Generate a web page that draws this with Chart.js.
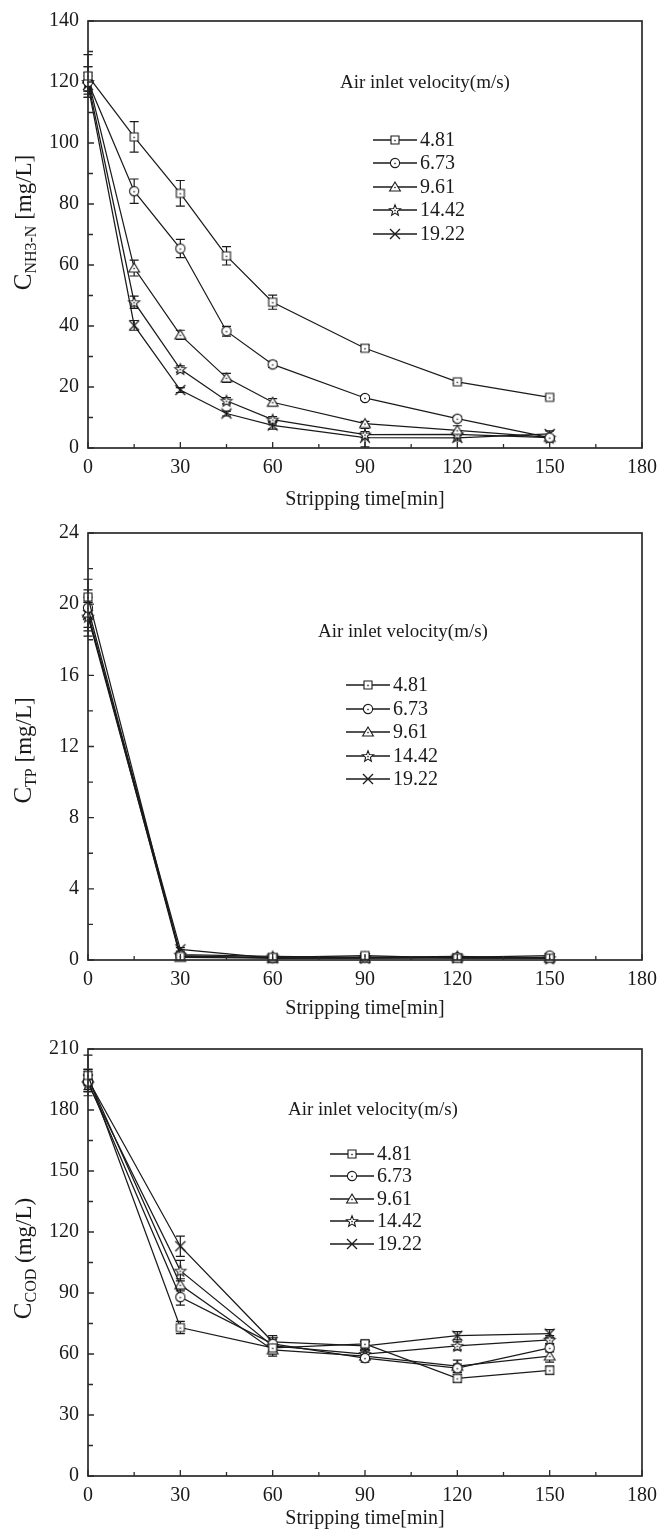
<!DOCTYPE html>
<html><head><meta charset="utf-8">
<script src="https://cdn.jsdelivr.net/npm/chart.js@4/dist/chart.umd.min.js"></script>
<style>
html,body{margin:0;padding:0;background:#fff;}
.panel{position:relative;width:665px;}
</style></head><body>
<div class="panel" style="height:512px"><canvas id="c1"></canvas></div>
<div class="panel" style="height:513px"><canvas id="c2"></canvas></div>
<div class="panel" style="height:513px"><canvas id="c3"></canvas></div>
<script>
// ---------------- data ----------------
const velocities = ['4.81', '6.73', '9.61', '14.42', '19.22'];
const legendTitle = 'Air inlet velocity(m/s)';
const xTitle = 'Stripping time[min]';
const xTickValues = [0, 30, 60, 90, 120, 150, 180];

const timeNH3 = [0, 15, 30, 45, 60, 90, 120, 150];
const nh3Values = [
  [122, 102, 83.5, 63, 47.8, 32.7, 21.7, 16.6],
  [120, 84.2, 65.4, 38.3, 27.4, 16.4, 9.6, 3.4],
  [121, 59, 37.1, 23, 15, 8, 5.8, 3.5],
  [120, 47.8, 25.9, 15.5, 9.3, 4.4, 4.5, 3.4],
  [119, 40.2, 19, 11.3, 7.4, 3.4, 3.3, 4.6]
];
const nh3Errors = [
  [7, 5, 4.2, 3, 2.3, 1, 0.6, 0.6],
  [5, 4, 3, 1.6, 1, 0.7, 0.8, 0.5],
  [4, 2.6, 1.5, 1.5, 1.2, 0.7, 1.5, 0.5],
  [3, 2, 1, 1, 1, 1, 1, 0.5],
  [3, 1.6, 0.8, 0.8, 1.2, 3, 1, 1]
];
const nh3Ticks = [0, 20, 40, 60, 80, 100, 120, 140];

const timeTP = [0, 30, 60, 90, 120, 150];
const tpValues = [
  [20.4, 0.2, 0.15, 0.25, 0.1, 0.1],
  [19.8, 0.25, 0.1, 0.15, 0.15, 0.25],
  [19.5, 0.15, 0.1, 0.1, 0.15, 0.15],
  [19.3, 0.3, 0.2, 0.15, 0.2, 0.1],
  [19.4, 0.6, 0.1, 0.1, 0.1, 0.1]
];
const tpErrors = [
  [1.0, 0.1, 0.1, 0.1, 0.1, 0.1],
  [0.6, 0.1, 0.1, 0.1, 0.1, 0.1],
  [1.3, 0.1, 0.1, 0.1, 0.1, 0.1],
  [0.8, 0.1, 0.1, 0.1, 0.1, 0.1],
  [0.7, 0.1, 0.1, 0.1, 0.1, 0.1]
];
const tpTicks = [0, 4, 8, 12, 16, 20, 24];

const timeCOD = [0, 30, 60, 90, 120, 150];
const codValues = [
  [197, 73, 63, 65, 48, 52],
  [194, 88, 65, 58, 53, 63],
  [196, 94, 62, 59, 54, 59],
  [193, 101, 64, 60, 64, 67],
  [195, 113, 66, 64, 69, 70]
];
const codErrors = [
  [10, 3, 3, 2, 2, 2],
  [5, 4, 3, 2, 2, 2],
  [4, 3, 3, 2, 3, 3],
  [4, 5, 3, 2, 2, 2],
  [5, 5, 3, 2, 2, 2]
];
const codTicks = [0, 30, 60, 90, 120, 150, 180, 210];

// ---------------- styling ----------------
const FONT = "'Liberation Serif', 'Times New Roman', serif";
const INK = '#1a1a1a';

function makeMarker(kind) {
  const s = 16, m = s / 2;
  const c = document.createElement('canvas');
  c.width = s; c.height = s;
  const g = c.getContext('2d');
  g.strokeStyle = INK; g.fillStyle = '#fff'; g.lineWidth = 1.1;
  g.beginPath();
  if (kind === 'square') {
    g.rect(m - 4, m - 4, 8, 8);
  } else if (kind === 'circle') {
    g.arc(m, m, 4.6, 0, Math.PI * 2);
  } else if (kind === 'triangle') {
    g.moveTo(m, m - 5); g.lineTo(m + 5.4, m + 4); g.lineTo(m - 5.4, m + 4); g.closePath();
  } else if (kind === 'star') {
    for (let k = 0; k < 10; k++) {
      const r = k % 2 ? 2.5 : 5.8;
      const a = -Math.PI / 2 + k * Math.PI / 5;
      const px = m + r * Math.cos(a), py = m + 0.6 + r * Math.sin(a);
      if (k) g.lineTo(px, py); else g.moveTo(px, py);
    }
    g.closePath();
  }
  if (kind === 'cross') {
    g.lineWidth = 1.3;
    g.moveTo(m - 5, m - 5); g.lineTo(m + 5, m + 5);
    g.moveTo(m + 5, m - 5); g.lineTo(m - 5, m + 5);
    g.stroke();
  } else {
    g.fill(); g.stroke();
    g.fillStyle = INK;
    g.fillRect(m - 0.7, m - 0.2, 1.4, 1.4);
  }
  return c;
}
const markers = ['square', 'circle', 'triangle', 'star', 'cross'].map(makeMarker);

const decor = {
  id: 'decor',
  beforeDatasetsDraw(chart) {
    const { ctx, scales: { x, y } } = chart;
    ctx.save();
    ctx.strokeStyle = INK; ctx.lineWidth = 1.2;
    chart.data.datasets.forEach(ds => {
      ds.data.forEach((p, i) => {
        const e = ds.errors[i];
        if (!e) return;
        const px = x.getPixelForValue(p.x);
        const y1 = y.getPixelForValue(p.y + e);
        const y2 = Math.min(y.getPixelForValue(p.y - e), chart.chartArea.bottom);
        ctx.beginPath();
        ctx.moveTo(px, y1); ctx.lineTo(px, y2);
        ctx.moveTo(px - 4.5, y1); ctx.lineTo(px + 4.5, y1);
        ctx.moveTo(px - 4.5, y2); ctx.lineTo(px + 4.5, y2);
        ctx.stroke();
      });
    });
    ctx.restore();
  },
  afterDraw(chart, args, o) {
    const { ctx, chartArea: a, scales: { x, y } } = chart;
    ctx.save();
    // frame
    ctx.strokeStyle = '#2a2a2a'; ctx.lineWidth = 1.7;
    ctx.strokeRect(a.left, a.top, a.right - a.left, a.bottom - a.top);
    // inward ticks
    ctx.lineWidth = 1.3;
    ctx.beginPath();
    for (let i = 0; i < xTickValues.length; i++) {
      const v = xTickValues[i];
      const px = x.getPixelForValue(v);
      ctx.moveTo(px, a.bottom); ctx.lineTo(px, a.bottom - 6);
      if (i < xTickValues.length - 1) {
        const mx = x.getPixelForValue((v + xTickValues[i + 1]) / 2);
        ctx.moveTo(mx, a.bottom); ctx.lineTo(mx, a.bottom - 4);
      }
    }
    const yt = o.yTicks;
    for (let i = 0; i < yt.length; i++) {
      const py = y.getPixelForValue(yt[i]);
      ctx.moveTo(a.left, py); ctx.lineTo(a.left + 6, py);
      if (i < yt.length - 1) {
        const my = y.getPixelForValue((yt[i] + yt[i + 1]) / 2);
        ctx.moveTo(a.left, my); ctx.lineTo(a.left + 5, my);
      }
    }
    ctx.stroke();

    ctx.fillStyle = INK;
    // x title
    ctx.font = `20px ${FONT}`;
    ctx.textAlign = 'center'; ctx.textBaseline = 'middle';
    ctx.fillText(xTitle, (a.left + a.right) / 2, o.xTitleY);

    // y title (rotated, with subscript)
    const t = o.yTitle;
    ctx.save();
    ctx.translate(o.yTitleX, (a.top + a.bottom) / 2 + o.yTitleShift);
    ctx.rotate(-Math.PI / 2);
    ctx.textAlign = 'left'; ctx.textBaseline = 'alphabetic';
    const big = `25px ${FONT}`, small = `16px ${FONT}`, mid = `23px ${FONT}`;
    ctx.font = big; const w1 = ctx.measureText(t.main).width;
    ctx.font = small; const w2 = ctx.measureText(t.sub).width;
    ctx.font = mid; const w3 = ctx.measureText(t.rest).width;
    let sx = -(w1 + w2 + w3) / 2;
    ctx.font = big; ctx.fillText(t.main, sx, 8); sx += w1;
    ctx.font = small; ctx.fillText(t.sub, sx, 13); sx += w2;
    ctx.font = mid; ctx.fillText(t.rest, sx, 8);
    ctx.restore();

    // legend
    const L = o.legend;
    ctx.font = `19px ${FONT}`;
    ctx.textAlign = 'left'; ctx.textBaseline = 'middle';
    ctx.fillText(legendTitle, L.titleX, L.titleY);
    ctx.font = `20px ${FONT}`;
    ctx.strokeStyle = INK; ctx.lineWidth = 1.3;
    chart.data.datasets.forEach((ds, i) => {
      const ly = L.ys[i];
      ctx.beginPath(); ctx.moveTo(L.lineX, ly); ctx.lineTo(L.lineX + 44, ly); ctx.stroke();
      const img = ds.pointStyle;
      ctx.drawImage(img, L.lineX + 22 - img.width / 2, ly - img.height / 2);
      ctx.fillText(ds.label, L.lineX + 47, ly + 1);
    });
    ctx.restore();
  }
};

function buildChart(id, times, values, errors, yTicks, box, extra) {
  const datasets = values.map((vals, i) => ({
    label: velocities[i],
    data: times.map((t, j) => ({ x: t, y: vals[j] })),
    errors: errors[i],
    borderColor: INK,
    borderWidth: 1.25,
    pointStyle: markers[i],
    pointRadius: 5,
    pointHoverRadius: 5,
    tension: 0,
    fill: false,
    clip: false
  }));
  const canvasH = document.getElementById(id).parentNode.clientHeight;
  return new Chart(document.getElementById(id), {
    type: 'line',
    data: { datasets },
    options: {
      responsive: true,
      maintainAspectRatio: false,
      animation: false,
      events: [],
      layout: { padding: { top: box.top, right: 665 - box.right, left: 0, bottom: 0 } },
      plugins: {
        legend: { display: false },
        tooltip: { enabled: false },
        decor: Object.assign({ yTicks }, extra)
      },
      scales: {
        x: {
          type: 'linear', min: 0, max: 180,
          afterBuildTicks: s => { s.ticks = xTickValues.map(v => ({ value: v })); },
          afterFit: s => { s.height = canvasH - box.bottom; },
          grid: { display: false, drawTicks: false },
          border: { display: false },
          ticks: { font: { family: FONT, size: 20 }, color: INK, padding: 8, maxRotation: 0, autoSkip: false }
        },
        y: {
          type: 'linear', min: yTicks[0], max: yTicks[yTicks.length - 1],
          afterBuildTicks: s => { s.ticks = yTicks.map(v => ({ value: v })); },
          afterFit: s => { s.width = box.left; },
          grid: { display: false, drawTicks: false },
          border: { display: false },
          ticks: { font: { family: FONT, size: 20 }, color: INK, padding: 9, autoSkip: false }
        }
      }
    },
    plugins: [decor]
  });
}

buildChart('c1', timeNH3, nh3Values, nh3Errors, nh3Ticks,
  { top: 21, bottom: 448, left: 88, right: 648 },
  { xTitleY: 500, yTitleX: 23, yTitleShift: -12,
    yTitle: { main: 'C', sub: 'NH3-N', rest: ' [mg/L]' },
    legend: { titleX: 340, titleY: 83, lineX: 373, ys: [140, 163, 187, 210, 234] } });

buildChart('c2', timeTP, tpValues, tpErrors, tpTicks,
  { top: 21, bottom: 448, left: 88, right: 648 },
  { xTitleY: 497, yTitleX: 23, yTitleShift: 4,
    yTitle: { main: 'C', sub: 'TP', rest: ' [mg/L]' },
    legend: { titleX: 318, titleY: 120, lineX: 346, ys: [173, 197, 220, 244, 267] } });

buildChart('c3', timeCOD, codValues, codErrors, codTicks,
  { top: 24, bottom: 451, left: 88, right: 648 },
  { xTitleY: 494, yTitleX: 23, yTitleShift: -4,
    yTitle: { main: 'C', sub: 'COD', rest: ' (mg/L)' },
    legend: { titleX: 288, titleY: 85, lineX: 330, ys: [129, 151, 174, 196, 219] } });
</script>
</body></html>
